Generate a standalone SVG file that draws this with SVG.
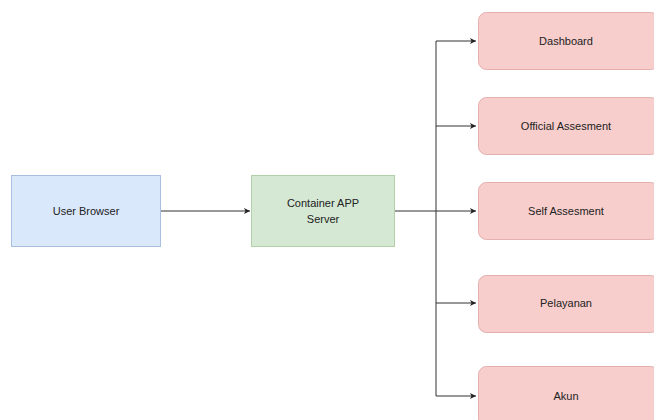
<svg xmlns="http://www.w3.org/2000/svg" width="654" height="420" viewBox="0 0 654 420">
<style>
.lbl{font-family:"Liberation Sans",Arial,sans-serif;font-size:11px;fill:#222;text-anchor:middle;dominant-baseline:central}
.blue{fill:#dae8fc;stroke:#a9bfdf;stroke-width:1}
.green{fill:#d5e8d4;stroke:#b3d0a8;stroke-width:1}
.red{fill:#f8cecc;stroke:#e3b0ae;stroke-width:1}
.edge{fill:none;stroke:#333;stroke-width:1}
</style>
<defs>
<marker id="arr" markerWidth="8" markerHeight="8" refX="6" refY="4" orient="auto" markerUnits="userSpaceOnUse">
<path d="M0,1 L6,4 L0,7 L1.5,4 Z" fill="#222"/>
</marker>
</defs>
<rect width="654" height="420" fill="#fff"/>
<g id="connectors">
<path class="edge" d="M161,211 H250" marker-end="url(#arr)"/>
<path class="edge" d="M395,211 H436"/>
<path class="edge" d="M436,41 V396"/>
<path class="edge" d="M436,41 H476" marker-end="url(#arr)"/>
<path class="edge" d="M436,126 H476" marker-end="url(#arr)"/>
<path class="edge" d="M436,211 H476" marker-end="url(#arr)"/>
<path class="edge" d="M436,303 H476" marker-end="url(#arr)"/>
<path class="edge" d="M436,396 H476" marker-end="url(#arr)"/>
</g>
<g id="user-browser">
<rect class="blue" x="11.5" y="175.5" width="149" height="71"/>
<text class="lbl" x="86" y="211">User Browser</text>
</g>
<g id="container-app-server">
<rect class="green" x="251.5" y="175.5" width="143" height="71"/>
<text class="lbl" x="323" y="203">Container APP</text>
<text class="lbl" x="323" y="219">Server</text>
</g>
<g id="dashboard">
<rect class="red" x="478.5" y="12.5" width="180" height="57" rx="8"/>
<text class="lbl" x="566" y="41">Dashboard</text>
</g>
<g id="official-assesment">
<rect class="red" x="478.5" y="97.5" width="180" height="57" rx="8"/>
<text class="lbl" x="566" y="126">Official Assesment</text>
</g>
<g id="self-assesment">
<rect class="red" x="478.5" y="182.5" width="180" height="57" rx="8"/>
<text class="lbl" x="566" y="211">Self Assesment</text>
</g>
<g id="pelayanan">
<rect class="red" x="478.5" y="275.5" width="180" height="57" rx="8"/>
<text class="lbl" x="566" y="303">Pelayanan</text>
</g>
<g id="akun">
<rect class="red" x="478.5" y="366.5" width="180" height="60" rx="8"/>
<text class="lbl" x="566" y="396">Akun</text>
</g>
</svg>
